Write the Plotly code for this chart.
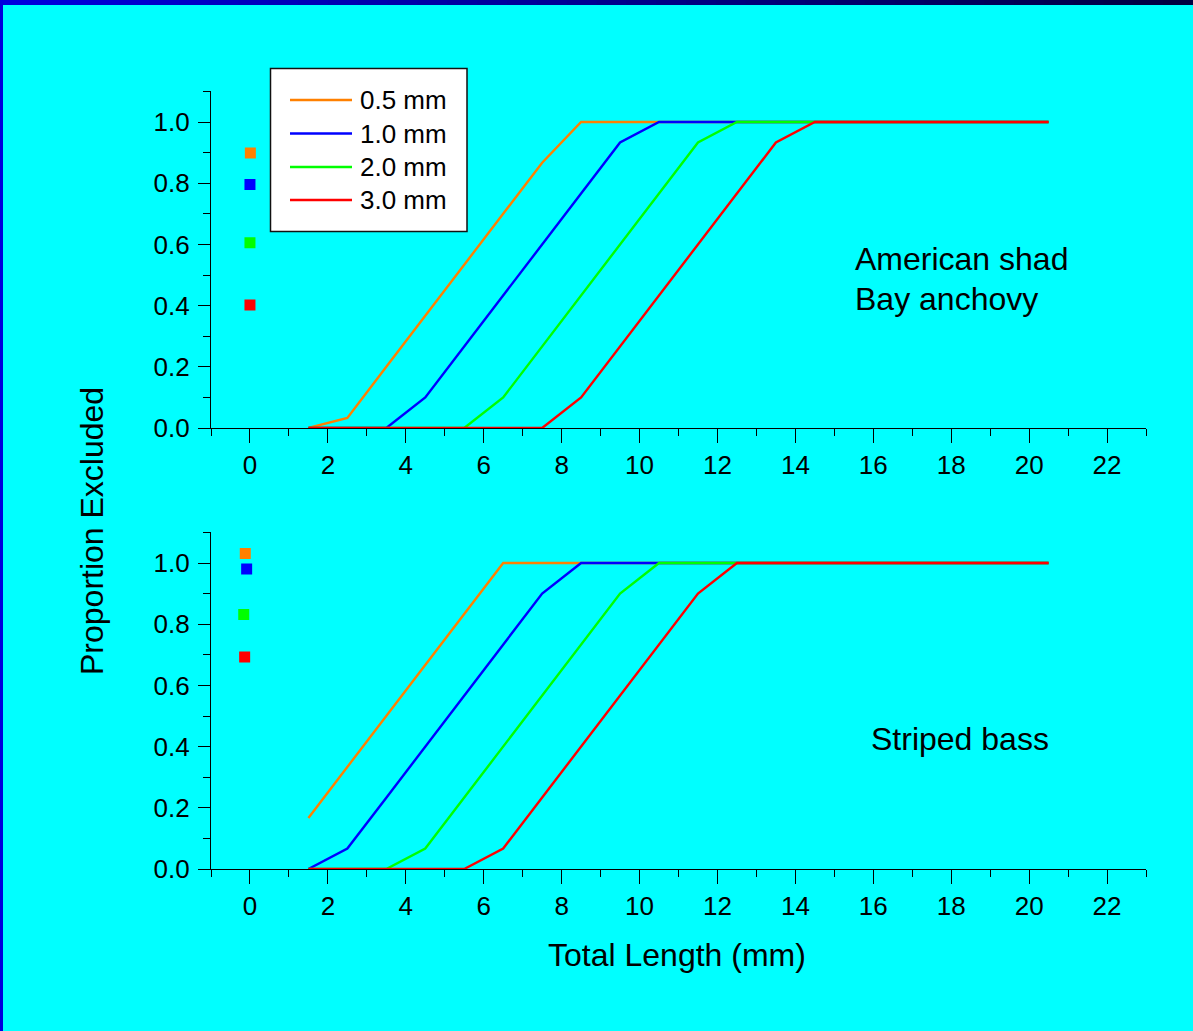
import plotly.graph_objects as go

W, H = 1193, 1031

# ---------------- data ----------------
lengths = [1.5, 2.5, 3.5, 4.5, 5.5, 6.5, 7.5, 8.5, 9.5, 10.5,
           11.5, 12.5, 13.5, 14.5, 15.5, 16.5, 17.5, 18.5, 19.5, 20.5]

mesh_names = ["0.5 mm", "1.0 mm", "2.0 mm", "3.0 mm"]
mesh_colors = ["#FF8000", "#0000FF", "#00FF00", "#FF0000"]

# American shad / Bay anchovy (top panel)
shad_05 = [0, 0.033, 0.2, 0.367, 0.533, 0.7, 0.867, 1, 1, 1, 1, 1, 1, 1, 1, 1, 1, 1, 1, 1]
shad_10 = [0, 0, 0, 0.1, 0.267, 0.433, 0.6, 0.767, 0.933, 1, 1, 1, 1, 1, 1, 1, 1, 1, 1, 1]
shad_20 = [0, 0, 0, 0, 0, 0.1, 0.267, 0.433, 0.6, 0.767, 0.933, 1, 1, 1, 1, 1, 1, 1, 1, 1]
shad_30 = [0, 0, 0, 0, 0, 0, 0, 0.1, 0.267, 0.433, 0.6, 0.767, 0.933, 1, 1, 1, 1, 1, 1, 1]

# Striped bass (bottom panel)
bass_05 = [0.167, 0.333, 0.5, 0.667, 0.833, 1, 1, 1, 1, 1, 1, 1, 1, 1, 1, 1, 1, 1, 1, 1]
bass_10 = [0, 0.067, 0.233, 0.4, 0.567, 0.733, 0.9, 1, 1, 1, 1, 1, 1, 1, 1, 1, 1, 1, 1, 1]
bass_20 = [0, 0, 0, 0.067, 0.233, 0.4, 0.567, 0.733, 0.9, 1, 1, 1, 1, 1, 1, 1, 1, 1, 1, 1]
bass_30 = [0, 0, 0, 0, 0, 0.067, 0.233, 0.4, 0.567, 0.733, 0.9, 1, 1, 1, 1, 1, 1, 1, 1, 1]

# stray square markers near x = 0
top_sq_x = [0.01, 0.0, 0.0, 0.0]
top_sq_y = [0.899, 0.796, 0.605, 0.402]
bot_sq_x = [-0.12, -0.085, -0.16, -0.136]
bot_sq_y = [1.031, 0.980, 0.832, 0.693]

x_ticks = [0, 2, 4, 6, 8, 10, 12, 14, 16, 18, 20, 22]
y_ticks = [0.0, 0.2, 0.4, 0.6, 0.8, 1.0]
y_tick_labels = ["0.0", "0.2", "0.4", "0.6", "0.8", "1.0"]

# ---------------- helpers ----------------
def px(x):
    return x / W

def py(y):
    return 1 - y / H

FONT = "Arial, Liberation Sans, Helvetica, sans-serif"

fig = go.Figure()

top_series = [shad_05, shad_10, shad_20, shad_30]
bot_series = [bass_05, bass_10, bass_20, bass_30]

for name, col, ys in zip(mesh_names, mesh_colors, top_series):
    fig.add_trace(go.Scatter(x=lengths, y=ys, mode="lines", name=name,
                             line=dict(color=col, width=2.4),
                             xaxis="x", yaxis="y", showlegend=False))
for name, col, ys in zip(mesh_names, mesh_colors, bot_series):
    fig.add_trace(go.Scatter(x=lengths, y=ys, mode="lines", name=name,
                             line=dict(color=col, width=2.4),
                             xaxis="x2", yaxis="y2", showlegend=False))

fig.add_trace(go.Scatter(x=top_sq_x, y=top_sq_y, mode="markers",
                         marker=dict(symbol="square", size=11, color=mesh_colors),
                         xaxis="x", yaxis="y", showlegend=False))
fig.add_trace(go.Scatter(x=bot_sq_x, y=bot_sq_y, mode="markers",
                         marker=dict(symbol="square", size=11, color=mesh_colors),
                         xaxis="x2", yaxis="y2", showlegend=False))

x_dom = [px(211), px(1146)]
top_dom = [py(428), py(91.4)]
bot_dom = [py(869), py(532.4)]

xax = dict(range=[-1, 23], domain=x_dom, showgrid=False, zeroline=False,
           showline=True, linecolor="black", linewidth=1.2,
           ticks="outside", ticklen=14, tickwidth=1.2, tickcolor="black",
           tickvals=x_ticks, ticktext=[str(v) for v in x_ticks],
           minor=dict(ticks="outside", ticklen=7, dtick=1, tick0=0, tickcolor="black"),
           tickfont=dict(family=FONT, size=26, color="black"),
           ticklabelstandoff=0, fixedrange=True)
yax = dict(range=[0, 1.1], showgrid=False, zeroline=False,
           showline=True, linecolor="black", linewidth=1.2,
           ticks="outside", ticklen=12, tickwidth=1.2, tickcolor="black",
           tickvals=y_ticks, ticktext=y_tick_labels,
           minor=dict(ticks="outside", ticklen=7, dtick=0.1, tick0=0, tickcolor="black"),
           tickfont=dict(family=FONT, size=26, color="black"),
           ticklabelstandoff=3, fixedrange=True)

shapes = []
# dark blue frame: left strip and gradient top strip
shapes.append(dict(type="rect", xref="paper", yref="paper", x0=0, x1=px(3), y0=0, y1=1,
                   fillcolor="#0000DD", line=dict(width=0), layer="above"))
n = 40
c0 = (0, 0, 0xDD)
c1 = (0, 0, 0x40)
for i in range(n):
    t = i / (n - 1)
    c = tuple(int(round(a + (b - a) * t)) for a, b in zip(c0, c1))
    shapes.append(dict(type="rect", xref="paper", yref="paper",
                       x0=i / n, x1=(i + 1) / n + 0.001, y0=py(5), y1=1,
                       fillcolor="rgb(%d,%d,%d)" % c, line=dict(width=0), layer="above"))

# legend box
shapes.append(dict(type="rect", xref="paper", yref="paper",
                   x0=px(270.5), x1=px(467), y0=py(231.5), y1=py(68.5),
                   fillcolor="white", line=dict(color="#111111", width=1.5), layer="above"))
annotations = []
leg_y = [100, 133.5, 167, 200]
for name, col, ly in zip(mesh_names, mesh_colors, leg_y):
    shapes.append(dict(type="line", xref="paper", yref="paper",
                       x0=px(290), x1=px(352), y0=py(ly), y1=py(ly),
                       line=dict(color=col, width=2.4), layer="above"))
    annotations.append(dict(text=name, xref="paper", yref="paper", x=px(358), y=py(ly),
                            xanchor="left", yanchor="middle", showarrow=False,
                            font=dict(family=FONT, size=26, color="black")))

annotations += [
    dict(text="American shad", xref="paper", yref="paper", x=px(853), y=py(259),
         xanchor="left", yanchor="middle", showarrow=False,
         font=dict(family=FONT, size=32, color="black")),
    dict(text="Bay anchovy", xref="paper", yref="paper", x=px(853), y=py(299),
         xanchor="left", yanchor="middle", showarrow=False,
         font=dict(family=FONT, size=32, color="black")),
    dict(text="Striped bass", xref="paper", yref="paper", x=px(869), y=py(739),
         xanchor="left", yanchor="middle", showarrow=False,
         font=dict(family=FONT, size=32, color="black")),
    dict(text="Proportion Excluded", xref="paper", yref="paper", x=px(92), y=py(531),
         xanchor="center", yanchor="middle", textangle=-90, showarrow=False,
         font=dict(family=FONT, size=32, color="black")),
    dict(text="Total Length (mm)", xref="paper", yref="paper", x=px(677), y=py(955),
         xanchor="center", yanchor="middle", showarrow=False,
         font=dict(family=FONT, size=32, color="black")),
]

fig.update_layout(
    width=W, height=H,
    margin=dict(l=0, r=0, t=0, b=0, autoexpand=False),
    paper_bgcolor="#00FFFF", plot_bgcolor="rgba(0,0,0,0)",
    xaxis=dict(xax, anchor="y"),
    yaxis=dict(yax, domain=top_dom, anchor="x"),
    xaxis2=dict(xax, anchor="y2"),
    yaxis2=dict(yax, domain=bot_dom, anchor="x2"),
    shapes=shapes, annotations=annotations,
    showlegend=False,
)

fig.write_html("out.html", config=dict(displayModeBar=False))
